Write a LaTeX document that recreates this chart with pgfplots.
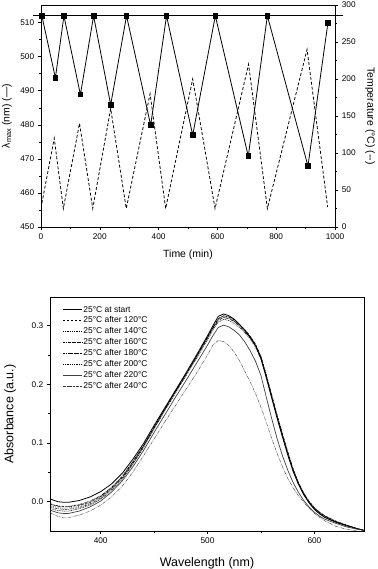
\documentclass[border=0pt]{standalone}
\usepackage{fontspec}
\setmainfont{Liberation Sans}
\usepackage{pgfplots}
\pgfplotsset{compat=1.18}
\usepackage{pgfplotstable}

\pgfplotstableread{
x s a b c d e f g
352.6 0.005 -0.004 -0.006 -0.008 -0.003 -0.011 -0.014 -0.018
355 0.003 -0.006 -0.008 -0.010 -0.005 -0.013 -0.016 -0.021
360 0.000 -0.008 -0.010 -0.012 -0.007 -0.015 -0.019 -0.025
365 -0.001 -0.009 -0.011 -0.013 -0.008 -0.016 -0.020 -0.027
370 -0.001 -0.009 -0.011 -0.013 -0.008 -0.016 -0.020 -0.027
380 0.002 -0.006 -0.008 -0.010 -0.005 -0.012 -0.016 -0.023
390 0.008 -0.001 -0.002 -0.004 0.001 -0.006 -0.009 -0.016
400 0.017 0.009 0.008 0.006 0.010 0.004 0.001 -0.006
410 0.030 0.023 0.022 0.021 0.024 0.019 0.016 0.008
420 0.048 0.042 0.041 0.040 0.043 0.038 0.035 0.026
430 0.072 0.067 0.066 0.065 0.068 0.063 0.059 0.050
440 0.099 0.095 0.094 0.094 0.096 0.092 0.087 0.078
450 0.130 0.127 0.126 0.126 0.127 0.124 0.118 0.107
460 0.160 0.158 0.157 0.157 0.158 0.155 0.148 0.136
470 0.190 0.188 0.187 0.188 0.188 0.185 0.178 0.164
480 0.220 0.218 0.217 0.218 0.218 0.215 0.207 0.192
490 0.251 0.249 0.248 0.249 0.248 0.245 0.237 0.220
500 0.283 0.281 0.280 0.281 0.279 0.276 0.267 0.250
505 0.300 0.297 0.296 0.297 0.295 0.292 0.283 0.267
510 0.316 0.312 0.310 0.312 0.309 0.306 0.297 0.275
515 0.320 0.317 0.315 0.317 0.314 0.311 0.301 0.273
520 0.317 0.315 0.313 0.315 0.312 0.309 0.298 0.266
525 0.311 0.310 0.308 0.310 0.307 0.304 0.292 0.255
530 0.302 0.302 0.300 0.302 0.299 0.297 0.284 0.240
535 0.292 0.293 0.291 0.293 0.290 0.288 0.272 0.222
540 0.280 0.282 0.280 0.282 0.279 0.277 0.257 0.204
545 0.266 0.268 0.266 0.268 0.265 0.263 0.239 0.184
550 0.244 0.247 0.246 0.248 0.245 0.243 0.215 0.161
555 0.211 0.215 0.214 0.217 0.214 0.212 0.178 0.135
560 0.177 0.181 0.180 0.183 0.180 0.178 0.142 0.108
565 0.143 0.147 0.146 0.149 0.146 0.144 0.108 0.083
570 0.111 0.115 0.114 0.117 0.114 0.112 0.079 0.060
575 0.080 0.084 0.083 0.086 0.083 0.081 0.054 0.040
580 0.052 0.055 0.054 0.057 0.055 0.053 0.033 0.024
585 0.030 0.032 0.031 0.033 0.032 0.030 0.016 0.010
590 0.012 0.014 0.013 0.015 0.014 0.012 0.002 -0.001
595 -0.002 0.000 -0.001 0.001 0.000 -0.002 -0.009 -0.011
600 -0.013 -0.011 -0.012 -0.010 -0.011 -0.013 -0.018 -0.020
605 -0.021 -0.019 -0.020 -0.018 -0.019 -0.021 -0.025 -0.027
610 -0.027 -0.025 -0.026 -0.024 -0.025 -0.027 -0.030 -0.033
620 -0.035 -0.034 -0.034 -0.033 -0.034 -0.035 -0.037 -0.042
630 -0.041 -0.040 -0.040 -0.040 -0.040 -0.041 -0.043 -0.047
640 -0.046 -0.046 -0.046 -0.046 -0.046 -0.046 -0.047 -0.050
646.4 -0.049 -0.049 -0.049 -0.049 -0.049 -0.049 -0.049 -0.051
}\spectra

\pgfplotsset{
  common/.style={
    scale only axis,
    anchor=south west,
    tick align=outside,
    major tick length=3.3bp,
    minor tick length=2bp,
    axis line style={line width=0.8pt},
    every tick/.style={black, line width=0.6pt},
    tick label style={font=\fontsize{8.3}{10}\selectfont},
    /pgf/number format/assume math mode=true,
    /pgf/number format/1000 sep={},
  }
}

\begin{document}
\begin{tikzpicture}
\useasboundingbox (0,0) rectangle (378bp,569bp);

% ---------- top: lambda_max (left axis) ----------
\begin{axis}[common,
  at={(41bp,342bp)}, width=294bp, height=222bp,
  xmin=0, xmax=1000, ymin=450, ymax=515.2,
  xtick={0,200,400,600,800,1000}, minor x tick num=1,
  ytick={450,460,470,480,490,500,510}, minor y tick num=1,
  xtick pos=left, ytick pos=left,
  xlabel={Time (min)},
  ylabel={λ\textsubscript{max} (nm) (—)},
  every axis x label/.style={at={(axis description cs:0.5,-0.126)}, anchor=center, font=\fontsize{10.5}{12}\selectfont},
  every axis y label/.style={at={(axis description cs:-0.116,0.5)}, rotate=90, anchor=center, font=\fontsize{10.5}{12}\selectfont},
  clip=false,
]
\addplot[black, line width=0.8pt] coordinates {(-26,512) (1028,512)};
\addplot[black, line width=0.8pt, mark=square*, mark size=2.3pt, mark options={solid}] coordinates {
(3,512) (49,493.8) (78,512) (134,488.9) (179,512) (237,485.9) (291,512)
(373,479.9) (427,512) (516,477) (593,512) (705,470.8) (770,512) (908,467.9) (976,510)};
\end{axis}

% ---------- top: temperature (right axis) ----------
\begin{axis}[common,
  at={(41bp,342bp)}, width=294bp, height=222bp,
  xmin=0, xmax=1000, ymin=0, ymax=300,
  axis x line=none, axis y line*=right,
  ytick={0,50,100,150,200,250,300}, minor y tick num=1,
  ylabel={Temperature (°C) (-{}-)},
  every axis y label/.style={at={(axis description cs:1.119,0.5)}, rotate=-90, anchor=center, font=\fontsize{10.5}{12}\selectfont},
]
\addplot[black, line width=0.8pt, dash pattern=on 3pt off 2pt] coordinates {
(3,32) (45,120) (76,25) (131,140) (176,25) (237,160) (290,25) (371,180)
(424,25) (516,200) (592,25) (706,220) (770,25) (905,240) (975,27)};
\end{axis}

% ---------- bottom: spectra ----------
\begin{axis}[common,
  at={(50bp,38bp)}, width=314bp, height=234bp,
  xmin=352.6, xmax=646.4, ymin=-0.05, ymax=0.349,
  xtick={400,500,600}, minor x tick num=1,
  ytick={0,0.1,0.2,0.3}, minor y tick num=1,
  xtick pos=left, ytick pos=left,
  yticklabel style={/pgf/number format/.cd, fixed, fixed zerofill, precision=1},
  xlabel={Wavelength (nm)},
  ylabel={Absorbance (a.u.)},
  every axis x label/.style={at={(axis description cs:0.5,-0.14)}, anchor=center, font=\fontsize{12.5}{14}\selectfont},
  every axis y label/.style={at={(axis description cs:-0.127,0.5)}, rotate=90, anchor=center, font=\fontsize{12.5}{14}\selectfont},
  legend cell align=left,
  legend style={at={(axis description cs:0.03,0.975)}, anchor=north west, draw=none, fill=none,
    font=\fontsize{8.5}{10}\selectfont,
    nodes={inner sep=1pt, text height=6pt, text depth=1.5pt}, row sep=1.4pt},
  legend image code/.code={\draw[#1] (0bp,0bp) -- (19bp,0bp);},
]
\addplot[black, line width=0.8pt] table[x=x, y=s] {\spectra};
\addlegendentry{25°C at start}
\addplot[black, line width=0.5pt, dash pattern=on 2.5pt off 1.5pt] table[x=x, y=a] {\spectra};
\addlegendentry{25°C after 120°C}
\addplot[black, line width=0.5pt, dash pattern=on 0.6pt off 1.2pt] table[x=x, y=b] {\spectra};
\addlegendentry{25°C after 140°C}
\addplot[black, line width=0.5pt, dash pattern=on 2.5pt off 1pt on 0.6pt off 1pt] table[x=x, y=c] {\spectra};
\addlegendentry{25°C after 160°C}
\addplot[black, line width=0.6pt, dash pattern=on 2.5pt off 0.8pt on 0.6pt off 0.8pt on 0.6pt off 0.8pt] table[x=x, y=d] {\spectra};
\addlegendentry{25°C after 180°C}
\addplot[black, line width=0.5pt, dash pattern=on 1pt off 0.8pt] table[x=x, y=e] {\spectra};
\addlegendentry{25°C after 200°C}
\addplot[black!75, line width=0.7pt] table[x=x, y=f] {\spectra};
\addlegendentry{25°C after 220°C}
\addplot[black!80, line width=0.4pt, dash pattern=on 3pt off 0.8pt on 0.5pt off 0.8pt on 0.5pt off 0.8pt] table[x=x, y=g] {\spectra};
\addlegendentry{25°C after 240°C}
\end{axis}
\end{tikzpicture}
\end{document}
